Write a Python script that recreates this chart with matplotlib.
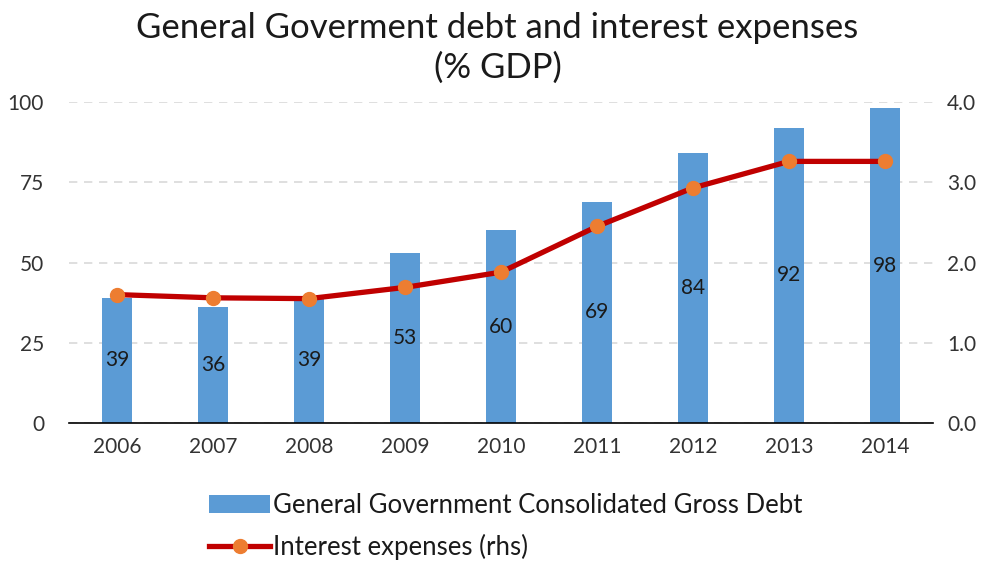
import numpy as np
import matplotlib
matplotlib.use('Agg')
import matplotlib.pyplot as plt
from matplotlib.lines import Line2D
from matplotlib.patches import Patch

plt.rcParams['font.family'] = ['Lato', 'DejaVu Sans']

years = ['2006', '2007', '2008', '2009', '2010', '2011', '2012', '2013', '2014']
debt = [39, 36, 39, 53, 60, 69, 84, 92, 98]
interest = [1.60, 1.56, 1.55, 1.69, 1.88, 2.45, 2.93, 3.26, 3.26]

BAR_COLOR = '#5B9BD5'
LINE_COLOR = '#C00000'
MARKER_COLOR = '#ED7D31'
TEXT_COLOR = '#1a1a1a'

fig = plt.figure(figsize=(9.89, 5.62), dpi=100)
ax = fig.add_axes([0.0698, 0.2473, 0.8736, 0.5712])
ax2 = ax.twinx()

x = np.arange(len(years))
ax.bar(x, debt, width=0.31, color=BAR_COLOR, zorder=2)
for xi, v in zip(x, debt):
    ax.text(xi, v / 2, str(v), ha='center', va='center', fontsize=15,
            color=TEXT_COLOR, zorder=3)

ax2.plot(x, interest, color=LINE_COLOR, linewidth=3.8, marker='o',
         markersize=10, markerfacecolor=MARKER_COLOR,
         markeredgecolor=MARKER_COLOR, zorder=4)

ax.set_xlim(-0.5, len(years) - 0.5)
ax.set_ylim(0, 100)
ax2.set_ylim(0, 4)
ax.set_yticks([0, 25, 50, 75, 100])
ax2.set_yticks([0, 1, 2, 3, 4])
ax2.set_yticklabels([f'{v:.1f}' for v in [0, 1, 2, 3, 4]])
ax.set_xticks(x)
ax.set_xticklabels(years)

ax.grid(axis='y', color='#D9D9D9', linestyle=(0, (5, 4)), linewidth=1.2, zorder=0)
ax.set_axisbelow(True)
for a in (ax, ax2):
    for s in ('top', 'left', 'right', 'bottom'):
        a.spines[s].set_visible(False)
    a.tick_params(length=0, labelsize=15, labelcolor='#333333')
ax.spines['bottom'].set_visible(True)
ax.spines['bottom'].set_color('#000000')
ax.spines['bottom'].set_linewidth(1.2)
ax.tick_params(axis='y', pad=18)
ax.tick_params(axis='x', pad=10)
ax2.tick_params(axis='y', pad=10)

fig.text(0.503, 0.950, 'General Goverment debt and interest expenses',
         ha='center', va='center', fontsize=25, color=TEXT_COLOR)
fig.text(0.503, 0.880, '(% GDP)', ha='center', va='center', fontsize=25,
         color=TEXT_COLOR)

handles = [
    Patch(facecolor=BAR_COLOR, edgecolor='none'),
    Line2D([0], [0], color=LINE_COLOR, linewidth=3.8, marker='o', markersize=10,
           markerfacecolor=MARKER_COLOR, markeredgecolor=MARKER_COLOR),
]
labels = ['General Government Consolidated Gross Debt', 'Interest expenses (rhs)']
fig.legend(handles, labels, loc='center left', bbox_to_anchor=(0.211, 0.063),
           frameon=False, fontsize=18.5, handlelength=2.4, handletextpad=0.1,
           labelspacing=0.6, borderaxespad=0, borderpad=0,
           labelcolor=TEXT_COLOR)

fig.savefig('out.png', dpi=100)
plt.close()
